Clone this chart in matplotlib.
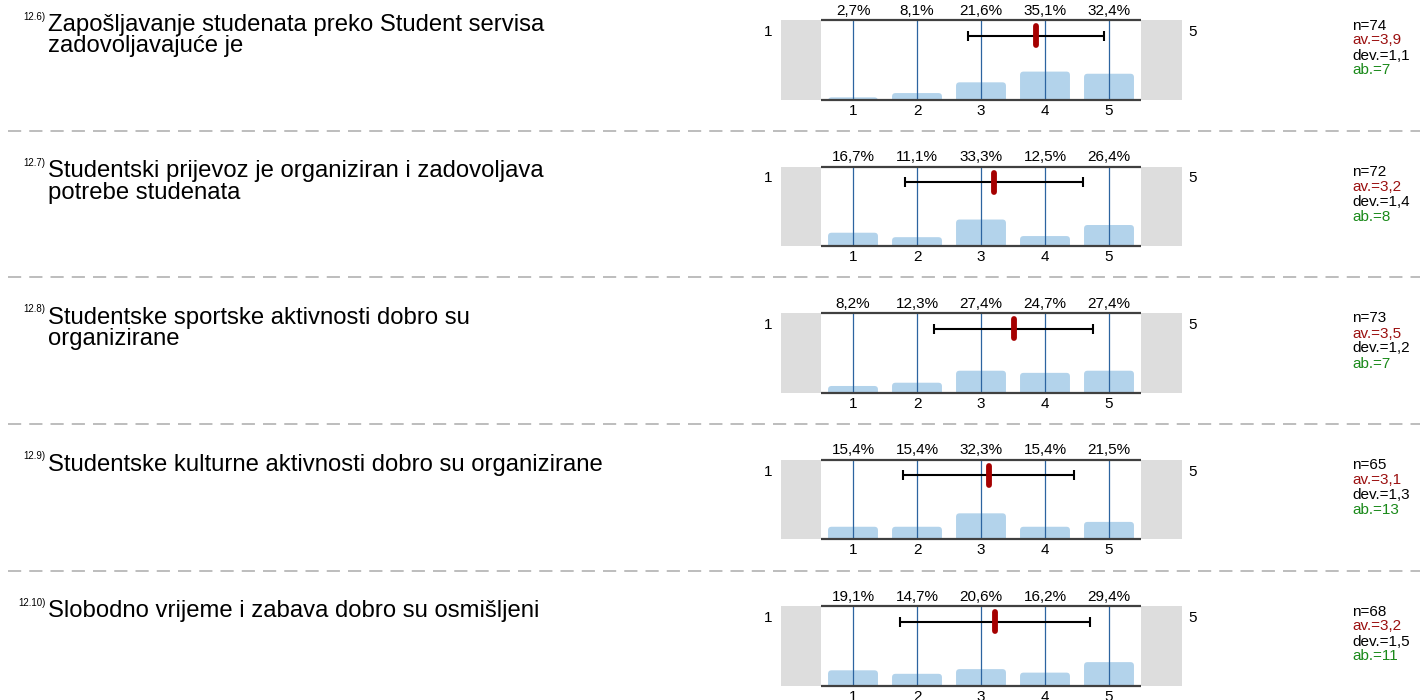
import matplotlib
matplotlib.use("Agg")
import matplotlib.pyplot as plt
from matplotlib.patches import FancyBboxPatch
from matplotlib.lines import Line2D

plt.rcParams['font.family'] = ['Liberation Sans', 'DejaVu Sans']
plt.rcParams['lines.scale_dashes'] = False

# Survey items
item_ids = ["12.6)", "12.7)", "12.8)", "12.9)", "12.10)"]
questions = [
    "Zapošljavanje studenata preko Student servisa\nzadovoljavajuće je",
    "Studentski prijevoz je organiziran i zadovoljava\npotrebe studenata",
    "Studentske sportske aktivnosti dobro su\norganizirane",
    "Studentske kulturne aktivnosti dobro su organizirane",
    "Slobodno vrijeme i zabava dobro su osmišljeni",
]
scale = [1, 2, 3, 4, 5]

# Answer distribution (%) per item
pct_126 = [2.7, 8.1, 21.6, 35.1, 32.4]
pct_127 = [16.7, 11.1, 33.3, 12.5, 26.4]
pct_128 = [8.2, 12.3, 27.4, 24.7, 27.4]
pct_129 = [15.4, 15.4, 32.3, 15.4, 21.5]
pct_1210 = [19.1, 14.7, 20.6, 16.2, 29.4]
distributions = [pct_126, pct_127, pct_128, pct_129, pct_1210]

# Summary statistics
n_resp = [74, 72, 73, 65, 68]
means = [3.86, 3.21, 3.51, 3.12, 3.22]
devs = [1.06, 1.39, 1.24, 1.34, 1.49]
abstentions = [7, 8, 7, 13, 11]

W, H = 1420, 700
fig = plt.figure(figsize=(W / 100, H / 100), dpi=100)
fig.patch.set_facecolor("white")


def fx(px):
    return px / W


def fy(py):
    return 1 - py / H


def val_at(px):
    # horizontal pixel -> scale value (1 at 853 px, 64 px per step)
    return 1 + (px - 853) / 64.0


def fmt(v):
    return f"{v:.1f}".replace(".", ",")


row_pitch = 146.5
box_h = 79.5
grid_col = "#2c64a0"
bar_col = "#b3d3eb"
frame_col = "#404040"
label_fs = 11

for i in range(5):
    top = 20 + row_pitch * i
    bottom = top + box_h

    # question text, one line at a time with tight leading
    fig.text(fx(45.5), fy(top - 0.5), item_ids[i], fontsize=7, va="baseline", ha="right")
    for k, line in enumerate(questions[i].split("\n")):
        fig.text(fx(48), fy(top + 11 + 21 * k), line, fontsize=17.2,
                 va="baseline", ha="left")

    ax = fig.add_axes([fx(781), fy(bottom), (1182 - 781) / W, box_h / H])
    x0, x1 = val_at(781), val_at(1182)
    ax.set_xlim(x0, x1)
    ax.set_ylim(0, 100)
    ax.axis("off")

    ax.axvspan(x0, 0.5, color="#dddddd", lw=0)
    ax.axvspan(5.5, x1, color="#dddddd", lw=0)

    # bars with rounded tops
    bw = 0.78
    aspect = (100 / box_h) * 64
    for x, p in zip(scale, distributions[i]):
        patch = FancyBboxPatch((x - bw / 2, -6), bw, p + 6,
                               boxstyle="round,pad=0,rounding_size=0.055",
                               mutation_aspect=aspect, facecolor=bar_col,
                               edgecolor="none", zorder=1)
        ax.add_patch(patch)

    ax.vlines(scale, 0, 100, color=grid_col, lw=0.9, zorder=2)
    ax.hlines([0, 100], 0.5, 5.5, color=frame_col, lw=1.6, zorder=3, clip_on=False)

    # mean +/- deviation
    ax.errorbar(means[i], 80, xerr=devs[i], color="black", lw=1.5,
                capsize=3.3, capthick=1.5, zorder=4)
    ax.plot([means[i], means[i]], [68, 92], color="#a50000", lw=4.2,
            solid_capstyle="round", zorder=5)

    for x, p in zip(scale, distributions[i]):
        ax.annotate(fmt(p) + "%", (x, 100), xytext=(0, 3.8), textcoords="offset points",
                    ha="center", va="baseline", fontsize=label_fs, annotation_clip=False)
        ax.annotate(str(x), (x, 0), xytext=(0, -3), textcoords="offset points",
                    ha="center", va="top", fontsize=label_fs, annotation_clip=False)

    fig.text(fx(768), fy(top + 16), "1", fontsize=label_fs, ha="center", va="baseline")
    fig.text(fx(1193), fy(top + 16), "5", fontsize=label_fs, ha="center", va="baseline")

    # statistics column
    stats = [(f"n={n_resp[i]}", "black"), (f"av.={fmt(means[i])}", "#9b1010"),
             (f"dev.={fmt(devs[i])}", "black"), (f"ab.={abstentions[i]}", "#1a8a1a")]
    for k, (s, c) in enumerate(stats):
        fig.text(fx(1352), fy(top + 9.5 + 15 * k), s, fontsize=11, color=c,
                 ha="left", va="baseline")

    if i < 4:
        yline = fy(131 + row_pitch * i)
        fig.add_artist(Line2D([fx(8), fx(1420)], [yline, yline], color="#b8b8b8",
                              lw=1.3, dashes=(9.5, 5.8)))

fig.savefig("out.png", dpi=100)
